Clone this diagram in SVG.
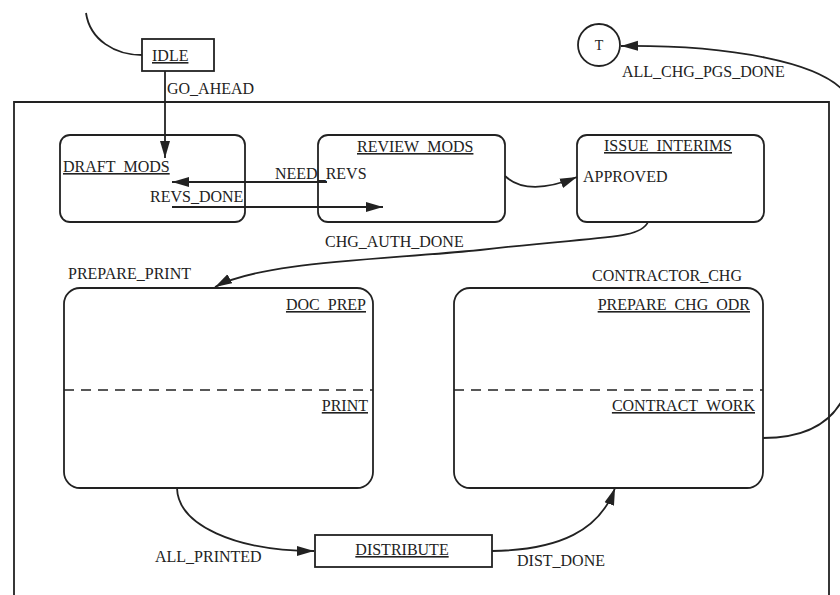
<svg xmlns="http://www.w3.org/2000/svg" width="840" height="595" viewBox="0 0 840 595">
<defs>
<style>
text{font-family:"Liberation Serif","Times New Roman",serif;font-size:16px;fill:#222}
.u{text-decoration:underline}
.box{fill:none;stroke:#222;stroke-width:1.8}
.ln{fill:none;stroke:#222;stroke-width:1.8}
.dash{fill:none;stroke:#222;stroke-width:1.6;stroke-dasharray:10 7}
</style>
<marker id="ah" markerUnits="userSpaceOnUse" markerWidth="18" markerHeight="12" viewBox="0 0 18 12" refX="17" refY="6" orient="auto">
<path d="M0,1 L17,6 L0,11 Z" fill="#222"/>
</marker>
</defs>
<rect width="840" height="595" fill="#fff"/>
<g id="frame"><path class="ln" d="M14,595 L14,102 L829,102 L829,595"/></g>

<g id="connectors">
<path class="ln" d="M86,13 C90,40 115,55 142,55"/>
<path class="ln" d="M165,71 L165,158" marker-end="url(#ah)"/>
<path class="ln" d="M327,182 L172,182" marker-end="url(#ah)"/>
<path class="ln" d="M172,207 L383,207" marker-end="url(#ah)"/>
<path class="ln" d="M505,176 C520,190 545,190 577,177" marker-end="url(#ah)"/>
<path class="ln" d="M648,222 C640,240 600,236 480,250 C380,260 260,262 215,287" marker-end="url(#ah)"/>
<path class="ln" d="M763,438 C810,438 840,420 850,380 C870,300 870,160 850,100 C830,60 720,45 621,46" marker-end="url(#ah)"/>
<path class="ln" d="M177,488 C178,525 235,551 314,551" marker-end="url(#ah)"/>
<path class="ln" d="M492,551 C560,550 600,530 615,488" marker-end="url(#ah)"/>
</g>

<g id="labels">
<text x="167" y="94">GO_AHEAD</text>
<text x="275" y="179">NEED_REVS</text>
<text x="150" y="202">REVS_DONE</text>
<text x="583" y="182">APPROVED</text>
<text x="325" y="247">CHG_AUTH_DONE</text>
<text x="68" y="279">PREPARE_PRINT</text>
<text x="592" y="281">CONTRACTOR_CHG</text>
<text x="622" y="77">ALL_CHG_PGS_DONE</text>
<text x="155" y="562">ALL_PRINTED</text>
<text x="517" y="566">DIST_DONE</text>
</g>

<g id="idle">
<rect class="box" x="142" y="39" width="72" height="32"/>
<text class="u" x="152" y="61">IDLE</text>
</g>
<g id="t">
<circle class="box" cx="599" cy="45" r="21"/>
<text x="599" y="50" text-anchor="middle" style="font-size:14px">T</text>
</g>
<g id="draft_mods">
<rect class="box" x="60" y="135" width="185" height="87" rx="10"/>
<text class="u" x="63" y="172">DRAFT_MODS</text>
</g>
<g id="review_mods">
<rect class="box" x="318" y="135" width="187" height="87" rx="10"/>
<text class="u" x="357" y="152">REVIEW_MODS</text>
</g>
<g id="issue_interims">
<rect class="box" x="577" y="135" width="187" height="87" rx="10"/>
<text class="u" x="604" y="151">ISSUE_INTERIMS</text>
</g>
<g id="prepare_print">
<rect class="box" x="64" y="288" width="309" height="200" rx="16"/>
<path class="dash" d="M64,390 L373,390"/>
<text class="u" x="366" y="310" text-anchor="end">DOC_PREP</text>
<text class="u" x="368" y="411" text-anchor="end">PRINT</text>
</g>
<g id="contractor_chg">
<rect class="box" x="454" y="288" width="309" height="200" rx="16"/>
<path class="dash" d="M454,390 L763,390"/>
<text class="u" x="750" y="310" text-anchor="end">PREPARE_CHG_ODR</text>
<text class="u" x="755" y="411" text-anchor="end">CONTRACT_WORK</text>
</g>
<g id="distribute">
<rect class="box" x="315" y="535" width="177" height="32"/>
<text class="u" x="402" y="555" text-anchor="middle">DISTRIBUTE</text>
</g>
</svg>
